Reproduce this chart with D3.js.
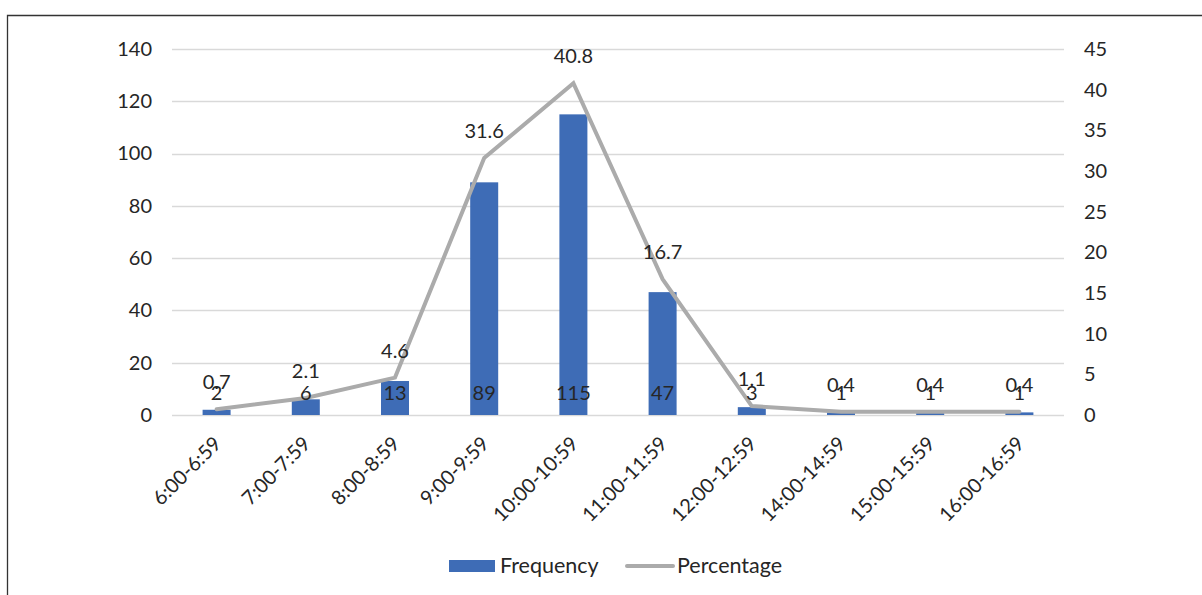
<!DOCTYPE html>
<html>
<head>
<meta charset="utf-8">
<script src="https://cdn.jsdelivr.net/npm/d3@7/dist/d3.min.js"></script>
<style>
  html, body { margin: 0; padding: 0; background: #fff; }
  svg { display: block; font-family: Lato, "Open Sans", sans-serif; }
</style>
</head>
<body>
<svg id="chart" width="1202" height="595"></svg>
<script>
// Arrival time slots, counts and their share of the total
const categories = ["6:00-6:59", "7:00-7:59", "8:00-8:59", "9:00-9:59", "10:00-10:59",
                    "11:00-11:59", "12:00-12:59", "14:00-14:59", "15:00-15:59", "16:00-16:59"];
const frequency = [2, 6, 13, 89, 115, 47, 3, 1, 1, 1];
const percentage = [0.7, 2.1, 4.6, 31.6, 40.8, 16.7, 1.1, 0.4, 0.4, 0.4];
const leftTicks = [0, 20, 40, 60, 80, 100, 120, 140];
const rightTicks = [0, 5, 10, 15, 20, 25, 30, 35, 40, 45];

const W = 1202, H = 595;
const plot = { left: 172, right: 1064, top: 49, bottom: 415 };
const textColor = "#262626";
const barColor = "#3E6CB6";
const lineColor = "#ABABAB";
const gridColor = "#D9D9D9";
const fontSize = 20;

const svg = d3.select("#chart");

// outer frame (open to the right and bottom)
svg.append("path")
  .attr("d", `M7.5,${H + 5} L7.5,15.5 L${W + 5},15.5`)
  .attr("fill", "none")
  .attr("stroke", "#333")
  .attr("stroke-width", 1.3);

const x = d3.scaleBand().domain(categories).range([plot.left, plot.right]).paddingInner(0).paddingOuter(0);
const yL = d3.scaleLinear().domain([0, 140]).range([plot.bottom, plot.top]);
const yR = d3.scaleLinear().domain([0, 45]).range([plot.bottom, plot.top]);

// horizontal gridlines
svg.append("g")
  .selectAll("line")
  .data(leftTicks)
  .join("line")
  .attr("x1", plot.left).attr("x2", plot.right)
  .attr("y1", d => Math.round(yL(d)) + 0.5).attr("y2", d => Math.round(yL(d)) + 0.5)
  .attr("stroke", gridColor)
  .attr("stroke-width", 1.3);

// left axis
const leftAxis = svg.append("g")
  .attr("transform", `translate(${plot.left - 20},0)`)
  .call(d3.axisLeft(yL).tickValues(leftTicks).tickSize(0).tickPadding(0).tickFormat(d3.format("d")));
leftAxis.select(".domain").remove();
leftAxis.selectAll("text").attr("fill", textColor).attr("font-size", fontSize).attr("font-family", "Lato");

// right axis
const rightAxis = svg.append("g")
  .attr("transform", `translate(${plot.right + 20},0)`)
  .call(d3.axisRight(yR).tickValues(rightTicks).tickSize(0).tickPadding(0).tickFormat(d3.format("d")));
rightAxis.select(".domain").remove();
rightAxis.selectAll("text").attr("fill", textColor).attr("font-size", fontSize).attr("font-family", "Lato");

// bars
const barW = 28;
svg.append("g")
  .selectAll("rect")
  .data(categories)
  .join("rect")
  .attr("x", d => x(d) + x.bandwidth() / 2 - barW / 2)
  .attr("y", (d, i) => yL(frequency[i]))
  .attr("width", barW)
  .attr("height", (d, i) => yL(0) - yL(frequency[i]))
  .attr("fill", barColor);

// percentage line
const line = d3.line()
  .x((d, i) => x(categories[i]) + x.bandwidth() / 2)
  .y(d => yR(d));
svg.append("path")
  .datum(percentage)
  .attr("d", line)
  .attr("fill", "none")
  .attr("stroke", lineColor)
  .attr("stroke-width", 4)
  .attr("stroke-linejoin", "miter")
  .attr("stroke-linecap", "round");

// bar value labels, at the inside base of each bar
svg.append("g")
  .selectAll("text")
  .data(frequency)
  .join("text")
  .attr("x", (d, i) => x(categories[i]) + x.bandwidth() / 2)
  .attr("y", yL(0) - 15)
  .attr("text-anchor", "middle")
  .attr("font-size", fontSize)
  .attr("fill", textColor)
  .text(d => d);

// percentage labels above each point
svg.append("g")
  .selectAll("text")
  .data(percentage)
  .join("text")
  .attr("x", (d, i) => x(categories[i]) + x.bandwidth() / 2)
  .attr("y", d => yR(d) - 20)
  .attr("text-anchor", "middle")
  .attr("font-size", fontSize)
  .attr("fill", textColor)
  .text(d => d.toFixed(1));

// category labels, rotated
svg.append("g")
  .selectAll("text")
  .data(categories)
  .join("text")
  .attr("transform", d => `translate(${x(d) + x.bandwidth() / 2 + 1},${plot.bottom + 25}) rotate(-45)`)
  .attr("text-anchor", "end")
  .attr("dy", "0.35em")
  .attr("font-size", fontSize)
  .attr("fill", textColor)
  .text(d => d);

// legend
const legendFont = 21.5;
const legend = svg.append("g");
legend.append("rect")
  .attr("x", 449).attr("y", 560).attr("width", 46).attr("height", 12)
  .attr("fill", barColor);
legend.append("text")
  .attr("x", 500).attr("y", 573)
  .attr("font-size", legendFont).attr("fill", textColor)
  .text("Frequency");
legend.append("line")
  .attr("x1", 627).attr("x2", 673).attr("y1", 566).attr("y2", 566)
  .attr("stroke", lineColor).attr("stroke-width", 4).attr("stroke-linecap", "round");
legend.append("text")
  .attr("x", 677).attr("y", 573)
  .attr("font-size", legendFont).attr("fill", textColor)
  .text("Percentage");
</script>
</body>
</html>
